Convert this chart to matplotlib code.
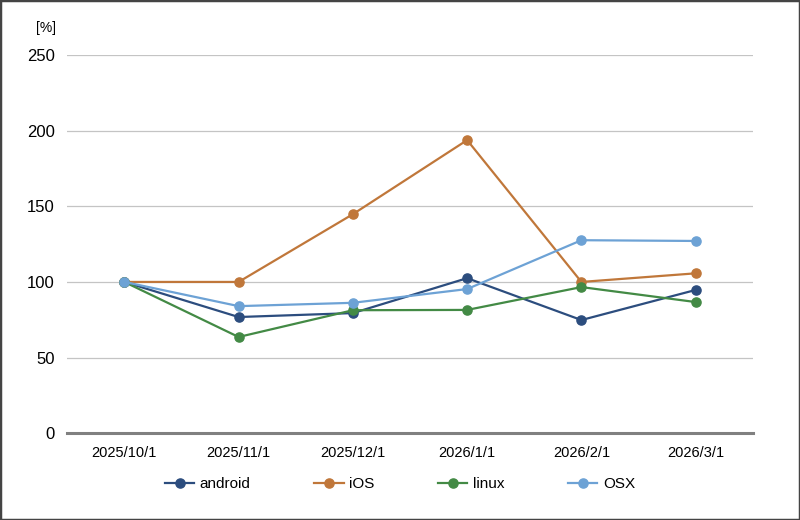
import numpy as np
import matplotlib.pyplot as plt
from matplotlib.patches import Rectangle

plt.rcParams['font.family'] = ['Liberation Sans', 'DejaVu Sans']

dates = ["2025/10/1", "2025/11/1", "2025/12/1", "2026/1/1", "2026/2/1", "2026/3/1"]
android = [100, 76.8, 79.4, 102.5, 74.8, 94.7]
ios = [100, 100, 144.8, 193.8, 100, 105.7]
linux = [100, 63.6, 81.3, 81.5, 96.6, 86.7]
osx = [100, 84.0, 86.2, 95.3, 127.6, 127.1]
yticks = [0, 50, 100, 150, 200, 250]

series = [
    ("android", android, "#2c4d7e"),
    ("iOS", ios, "#c0773a"),
    ("linux", linux, "#438a45"),
    ("OSX", osx, "#6da2d5"),
]

fig = plt.figure(figsize=(8, 5.2), dpi=100)
ax = fig.add_axes([0.084, 0.167, 0.857, 0.727])

x = np.arange(len(dates))
for name, vals, col in series:
    ax.plot(x, vals, color=col, lw=1.6, marker="o", ms=6.6, label=name, zorder=3)

ax.set_xlim(-0.5, len(dates) - 0.5)
ax.set_ylim(0, 250)
ax.set_yticks(yticks)
ax.set_xticks(x)
ax.set_xticklabels(dates, fontsize=10.5)
ax.tick_params(axis="y", length=0, pad=9, labelsize=12)
ax.tick_params(axis="x", length=0, pad=9)
for t in yticks[1:]:
    ax.axhline(t, color="#c4c4c4", lw=0.9, zorder=1)
for s in ["top", "right", "left"]:
    ax.spines[s].set_visible(False)
ax.spines["bottom"].set_color("#808080")
ax.spines["bottom"].set_linewidth(2.2)

fig.text(0.057, 0.946, "[%]", fontsize=10, ha="center", va="center")

fig.legend(loc="center", bbox_to_anchor=(0.5, 0.069), ncol=4, frameon=False,
           fontsize=11, handlelength=1.9, handletextpad=0.35, columnspacing=4.2)

fig.patches.append(Rectangle((0, 0), 1, 1, transform=fig.transFigure,
                             fill=False, edgecolor="#444444", lw=2.5))

fig.savefig("out.png", dpi=100)
